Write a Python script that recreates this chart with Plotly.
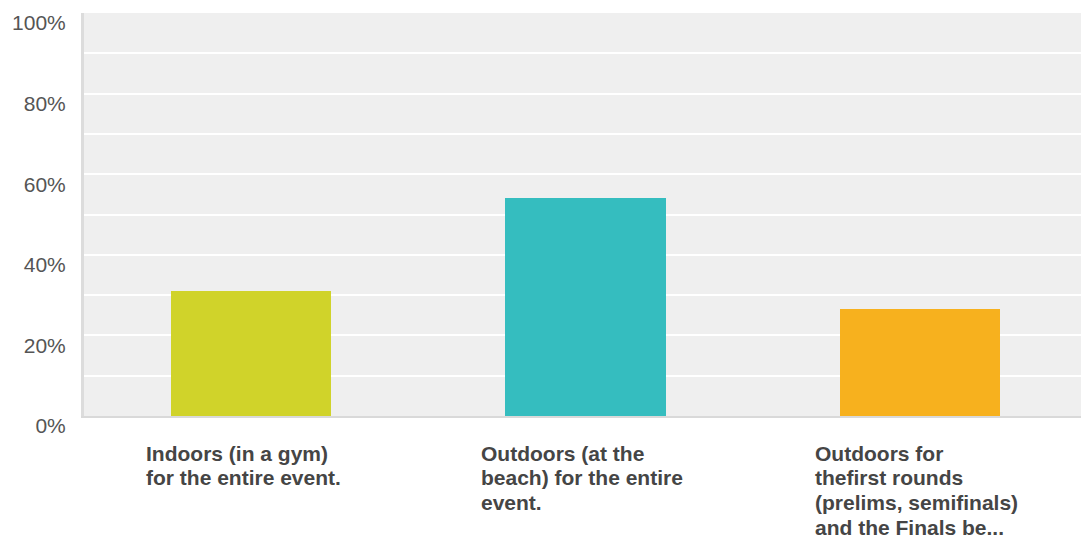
import plotly.graph_objects as go

categories = [
    "Indoors (in a gym)<br>for the entire event.",
    "Outdoors (at the<br>beach) for the entire<br>event.",
    "Outdoors for<br>thefirst rounds<br>(prelims, semifinals)<br>and the Finals be...",
]
values = [31.0, 54.1, 26.6]
colors = ["#D0D32A", "#35BDBF", "#F7B11E"]
tick_vals = [0, 20, 40, 60, 80, 100]
tick_text = ["0%", "20%", "40%", "60%", "80%", "100%"]

x_idx = list(range(len(categories)))

fig = go.Figure()
fig.add_trace(go.Bar(
    x=x_idx,
    y=values,
    marker=dict(color=colors, line=dict(width=0)),
    width=0.48,
    hoverinfo="skip",
))

LINE_H = 24.7
for i, label in zip(x_idx, categories):
    for k, line in enumerate(label.split("<br>")):
        fig.add_annotation(
            x=i, xref="x", y=0, yref="paper",
            text=line, showarrow=False,
            xanchor="left", yanchor="middle", align="left",
            borderpad=0,
            xshift=-106, yshift=-37 - LINE_H * k,
            font=dict(family="Liberation Sans, Arial, Helvetica", size=21,
                      color="#454545", weight="bold"),
        )

fig.update_layout(
    width=1081, height=537,
    margin=dict(l=84, r=0, t=13, b=121),
    paper_bgcolor="white",
    plot_bgcolor="#EFEFEF",
    showlegend=False,
    bargap=0,
    xaxis=dict(
        range=[-0.5, 2.482],
        showticklabels=False, showgrid=False, zeroline=False,
        showline=True, linecolor="#D9D9D9", linewidth=2,
        fixedrange=True,
    ),
    yaxis=dict(
        range=[0, 100],
        tickvals=tick_vals, ticktext=tick_text,
        showgrid=True, gridcolor="#FFFFFF", gridwidth=2,
        minor=dict(dtick=10, showgrid=True, gridcolor="#FFFFFF", gridwidth=2),
        zeroline=False,
        showline=True, linecolor="#DCDCDC", linewidth=3,
        ticks="", ticklabelstandoff=11, ticklabelshift=10,
        tickfont=dict(family="Liberation Sans, Arial, Helvetica", size=21, color="#555555"),
        fixedrange=True,
    ),
)

fig.write_html("out.html", config={"displayModeBar": False},
               post_script="document.body.style.margin='0px';")
